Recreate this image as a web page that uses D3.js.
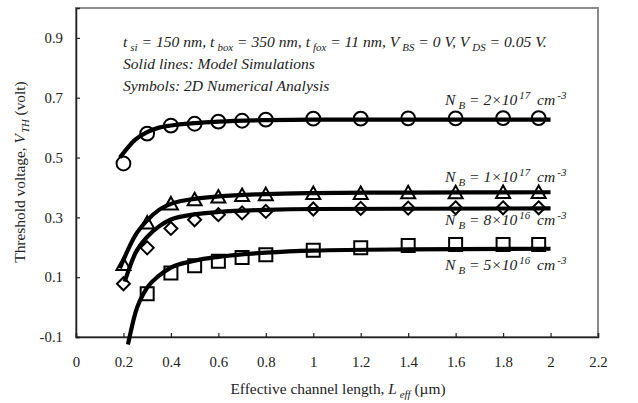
<!DOCTYPE html>
<html>
<head>
<meta charset="utf-8">
<script src="https://cdn.jsdelivr.net/npm/d3@7"></script>
<style>
  body { margin: 0; background: #fff; }
  svg text { font-family: "Liberation Serif", "Times New Roman", Times, "DejaVu Serif", serif; fill: #222; }
</style>
</head>
<body>
<svg id="chart" width="638" height="403"></svg>
<script>
// tick labels
const xTicks = [0, 0.2, 0.4, 0.6, 0.8, 1, 1.2, 1.4, 1.6, 1.8, 2, 2.2]
const yTicks = [-0.1, 0.1, 0.3, 0.5, 0.7, 0.9]

// symbols: 2D numerical analysis
const symX = [0.2, 0.3, 0.4, 0.5, 0.6, 0.7, 0.8, 1.0, 1.2, 1.4, 1.6, 1.8, 1.95]
const circleVals   = [0.48, 0.58, 0.607, 0.613, 0.62, 0.623, 0.627, 0.63, 0.63, 0.631, 0.631, 0.632, 0.632]
const triangleVals = [0.142, 0.281, 0.345, 0.359, 0.368, 0.373, 0.376, 0.38, 0.38, 0.382, 0.382, 0.383, 0.383]
const diamondVals  = [0.078, 0.198, 0.263, 0.292, 0.309, 0.315, 0.32, 0.328, 0.33, 0.331, 0.332, 0.332, 0.332]
const squareVals   = [null, 0.045, 0.114, 0.138, 0.153, 0.166, 0.175, 0.19, 0.198, 0.206, 0.209, 0.209, 0.209]

// solid lines: model simulations, [Leff, Vth]
const circleLine   = [[0.185, 0.5], [0.25, 0.56], [0.3, 0.585], [0.35, 0.6], [0.4, 0.607], [0.5, 0.615], [0.6, 0.62], [0.8, 0.625], [1.0, 0.627], [2.0, 0.627]]
const triangleLine = [[0.185, 0.13], [0.25, 0.24], [0.3, 0.29], [0.35, 0.325], [0.4, 0.345], [0.5, 0.362], [0.6, 0.37], [0.8, 0.378], [1.0, 0.381], [1.4, 0.383], [2.0, 0.384]]
const diamondLine  = [[0.205, 0.085], [0.25, 0.18], [0.3, 0.235], [0.35, 0.27], [0.4, 0.293], [0.5, 0.31], [0.6, 0.318], [0.8, 0.325], [1.0, 0.328], [2.0, 0.33]]
const squareLine   = [[0.219, -0.125], [0.25, -0.02], [0.3, 0.065], [0.35, 0.105], [0.4, 0.132], [0.5, 0.155], [0.6, 0.168], [0.8, 0.182], [1.0, 0.189], [1.4, 0.193], [2.0, 0.195]]

const svg = d3.select('#chart')
const plot = { left: 76, right: 598, top: 8, bottom: 337 }

let x = d3.scaleLinear().domain([0, 2.2]).range([plot.left, plot.right])
let y = d3.scaleLinear().domain([-0.1, 1.0]).range([plot.bottom, plot.top])

//Frame: top and right are grey, axes dark
svg.append('rect')
  .attr('x', plot.left).attr('y', plot.top)
  .attr('width', plot.right - plot.left).attr('height', plot.bottom - plot.top)
  .attr('fill', 'none').attr('stroke', '#8a8a8a').attr('stroke-width', 2)

let xAxis = svg.append('g')
  .attr('transform', 'translate(0,' + plot.bottom + ')')
  .call(d3.axisBottom(x).tickValues(xTicks).tickSize(-4).tickPadding(19)
    .tickFormat(d => String(+d.toFixed(1))))
let yAxis = svg.append('g')
  .attr('transform', 'translate(' + plot.left + ',0)')
  .call(d3.axisLeft(y).tickValues(yTicks).tickSize(-4).tickPadding(13)
    .tickFormat(d => String(+d.toFixed(1))))

;[xAxis, yAxis].forEach(g => {
  g.attr('font-family', null)
  g.select('.domain').attr('stroke', '#222').attr('stroke-width', 1.5)
  g.selectAll('.tick line').attr('stroke', '#222').attr('stroke-width', 1.2)
  g.selectAll('.tick text')
    .attr('font-size', 14.8).attr('fill', '#222')
})

//Rich text helper: segments with sub / sup / italic
function richText(parent, px, py, segs, opts) {
  opts = opts || {}
  let size = opts.size || 14
  let t = parent.append('text')
    .attr('x', px).attr('y', py)
    .attr('font-size', size)
    .attr('font-style', opts.italic ? 'italic' : 'normal')
  if (opts.anchor) t.attr('text-anchor', opts.anchor)
  if (opts.rotate) t.attr('transform', 'rotate(' + opts.rotate + ',' + px + ',' + py + ')')
  let shift = 0
  segs.forEach(s => {
    let target = s.sub ? 4 : s.sup ? -6 : 0
    let ts = t.append('tspan').text(s.t).attr('dy', target - shift)
    if (s.sub || s.sup) ts.attr('font-size', size * 0.7)
    if (s.it) ts.attr('font-style', 'italic')
    if (s.dx) ts.attr('dx', s.dx)
    shift = target
  })
  return t
}

//Model lines
let line = d3.line()
  .x(d => x(d[0]))
  .y(d => y(d[1]))
  .curve(d3.curveMonotoneX)

;[circleLine, triangleLine, diamondLine, squareLine].forEach(data => {
  svg.append('path')
    .datum(data)
    .attr('d', line)
    .attr('fill', 'none')
    .attr('stroke', '#000')
    .attr('stroke-width', 4.2)
    .attr('stroke-linejoin', 'round')
})

//Symbols
function points(vals, type) {
  let data = symX.map((d, i) => ({ x: d, v: vals[i] })).filter(d => d.v != null)
  let g = svg.append('g')
    .attr('fill', 'none')
    .attr('stroke', '#000')
    .attr('stroke-width', 2)
  g.selectAll('path')
    .data(data)
    .enter()
    .append('path')
    .attr('transform', d => 'translate(' + x(d.x) + ',' + y(d.v) + ')')
    .attr('d', function(d) {
      if (type == 'circle') return d3.symbol(d3.symbolCircle, 150)()
      if (type == 'square') return 'M-6.5,-6.5H6.5V6.5H-6.5Z'
      if (type == 'diamond') return 'M0,-6.5L6.5,0L0,6.5L-6.5,0Z'
      return 'M0,-7L7,5.5H-7Z'
    })
}
points(circleVals, 'circle')
points(triangleVals, 'triangle')
points(diamondVals, 'diamond')
points(squareVals, 'square')

//Annotations
richText(svg, 123, 47, [
  { t: 't' }, { t: 'si', sub: true, dx: 3 }, { t: ' = 150 nm, t' }, { t: 'box', sub: true, dx: 3 },
  { t: ' = 350 nm, t' }, { t: 'fox', sub: true, dx: 3 }, { t: ' = 11 nm, V' }, { t: 'BS', sub: true, dx: 3 },
  { t: ' = 0 V, V' }, { t: 'DS', sub: true, dx: 3 }, { t: ' = 0.05 V.' }
], { italic: true, size: 15.6 })
richText(svg, 123, 69, [{ t: 'Solid lines: Model Simulations' }], { italic: true, size: 15.6 })
richText(svg, 123, 91, [{ t: 'Symbols: 2D Numerical Analysis' }], { italic: true, size: 15.6 })

const nbLabels = [
  { y: 105, m: '2', e: '17' },
  { y: 182, m: '1', e: '17' },
  { y: 225, m: '8', e: '16' },
  { y: 270, m: '5', e: '16' }
]
nbLabels.forEach(d => {
  richText(svg, 445, d.y, [
    { t: 'N' }, { t: 'B', sub: true, dx: 3 }, { t: ' = ' + d.m + '×10' }, { t: d.e, sup: true, dx: 2 },
    { t: ' cm', dx: 3 }, { t: '-3', sup: true, dx: 2 }
  ], { italic: true, size: 15.6 })
})

//Axis titles
richText(svg, 338, 394, [
  { t: 'Effective channel length, ' }, { t: 'L', it: true }, { t: 'eff', sub: true, it: true, dx: 3 }, { t: ' (µm)' }
], { size: 15.4 }).attr('text-anchor', 'middle')

richText(svg, 25, 172, [
  { t: 'Threshold voltage, ' }, { t: 'V', it: true }, { t: 'TH', sub: true, it: true, dx: 1 }, { t: ' (volt)' }
], { size: 15.4, rotate: -90 }).attr('text-anchor', 'middle')
</script>
</body>
</html>
